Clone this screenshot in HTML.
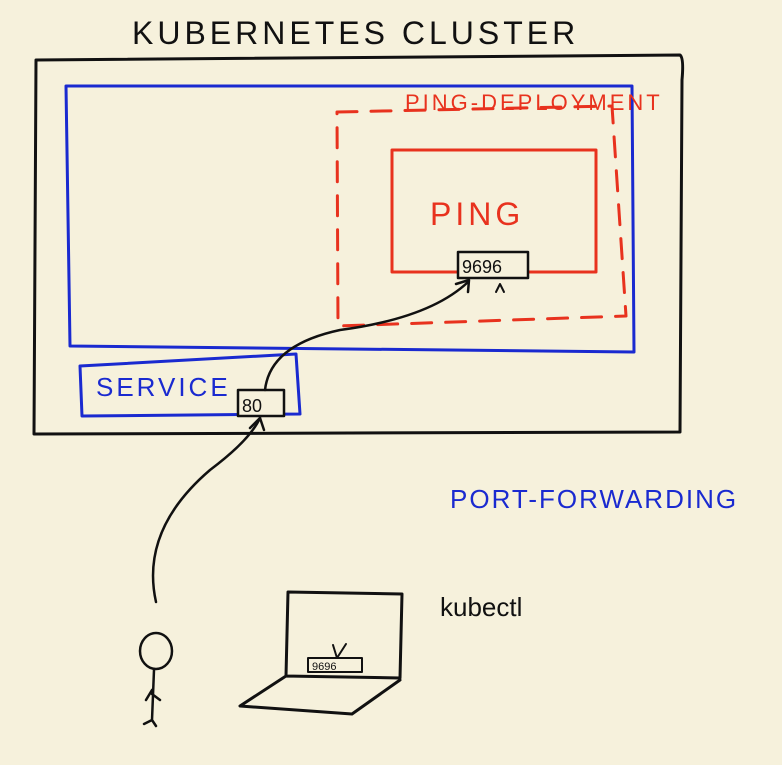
<!DOCTYPE html>
<html><head><style>
html,body{margin:0;padding:0;background:#f6f1dc;}
svg{display:block}
text{font-family:"Liberation Sans",sans-serif;}
</style></head><body>
<svg width="782" height="765" viewBox="0 0 782 765" xmlns="http://www.w3.org/2000/svg">
<rect width="782" height="765" fill="#f6f1dc"/>
<g fill="none" stroke-linecap="round" stroke-linejoin="round">
<!-- cluster -->
<path d="M36 60 L680 55 Q684 58 682 80 L680 432 L34 434 Z" stroke="#111" stroke-width="3"/>
<!-- blue box -->
<path d="M66 86 L632 86 L634 352 L70 346 Z" stroke="#1a2ad0" stroke-width="3"/>
<!-- red dashed deployment -->
<path d="M337 112 L612 106 L626 316 L338 326 Z" stroke="#e8321e" stroke-width="3" stroke-dasharray="20 14"/>
<!-- ping box -->
<path d="M392 150 L596 150 L596 272 L392 272 Z" stroke="#e8321e" stroke-width="3"/>
<!-- service -->
<path d="M80 366 L296 354 L300 414 L82 416 Z" stroke="#1a2ad0" stroke-width="3"/>
<!-- port boxes -->
<rect x="238" y="390" width="46" height="26" stroke="#111" stroke-width="2.5" fill="#f6f1dc"/>
<rect x="458" y="252" width="70" height="26" stroke="#111" stroke-width="2.5" fill="#f6f1dc"/>
<!-- arrows -->
<path d="M156 602 Q140 530 210 470 Q250 440 260 418" stroke="#111" stroke-width="2.5"/>
<path d="M250 428 L260 418 L264 430" stroke="#111" stroke-width="2.5"/>
<path d="M265 390 Q270 345 340 330 Q430 318 468 282" stroke="#111" stroke-width="2.5"/>
<path d="M456 284 L469 280 L468 292" stroke="#111" stroke-width="2.5"/>
<path d="M496 292 L500 284 L504 292" stroke="#111" stroke-width="2"/>
<!-- person -->
<ellipse cx="156" cy="651" rx="16" ry="18" stroke="#111" stroke-width="2.5"/>
<path d="M154 670 L152 720 M152 690 L146 700 M152 694 L160 700 M152 720 L144 724 M152 720 L156 726" stroke="#111" stroke-width="2.5"/>
<!-- laptop -->
<path d="M288 592 L402 594 L400 678 L286 676 Z M286 676 L240 706 L352 714 L400 680" stroke="#111" stroke-width="3"/>
<rect x="308" y="658" width="54" height="14" stroke="#111" stroke-width="2"/>
<path d="M333 645 L337 658 L346 644" stroke="#111" stroke-width="2"/>
</g>
<g font-size="32" fill="#111" letter-spacing="4">
<text x="132" y="44">KUBERNETES CLUSTER</text>
</g>
<text x="405" y="110" font-size="22" fill="#e8321e" letter-spacing="3">PING-DEPLOYMENT</text>
<text x="430" y="225" font-size="32" fill="#e8321e" letter-spacing="4">PING</text>
<text x="96" y="396" font-size="26" fill="#1a2ad0" letter-spacing="3">SERVICE</text>
<text x="242" y="412" font-size="18" fill="#111">80</text>
<text x="462" y="273" font-size="18" fill="#111">9696</text>
<text x="450" y="508" font-size="26" fill="#1a2ad0" letter-spacing="2">PORT-FORWARDING</text>
<text x="440" y="616" font-size="26" fill="#111">kubectl</text>
<text x="312" y="670" font-size="11" fill="#111">9696</text>
</svg>
</body></html>
